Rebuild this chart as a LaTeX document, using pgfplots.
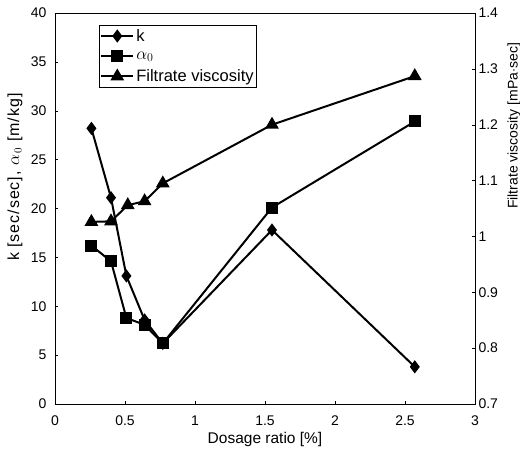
\documentclass[border=0pt]{standalone}
\usepackage{pgfplots}
\pgfplotsset{compat=1.18}
\usepackage{fontspec}
\setmainfont{Liberation Sans}
\newfontfamily\widefont[LetterSpace=6]{Liberation Sans}

\begin{document}
\begin{tikzpicture}
\pgfplotsset{
  every axis/.append style={
    width=420pt, height=391pt, scale only axis,
    xmin=0, xmax=3,
    font=\fontsize{14}{16}\selectfont,
    /pgf/number format/assume math mode=true,
    tick style={black, thin},
    major tick length=3pt,
    axis line style={thin},
  },
  every axis plot/.append style={black, line width=2pt, mark options={solid}},
}
\begin{axis}[
  ymin=0, ymax=40, ytick={0,5,...,40},
  xtick={0,0.5,1,1.5,2,2.5,3},
  ytick pos=left, xtick pos=bottom,
  yticklabel style={xshift=-5pt},
  xticklabel style={yshift=-8pt},
  xlabel={Dosage ratio [\%]},
  xlabel style={font=\fontsize{15.5}{18}\selectfont, yshift=0pt},
  ylabel={\widefont k [sec/sec], $\alpha_{\,0}$ [m/kg]},
  ylabel style={font=\fontsize{16}{18}\selectfont,
    at={(axis description cs:-0.0952,0.58)}, anchor=center},
]
\addplot[mark=diamond*, mark size=5pt] coordinates {
  (0.26,28.2) (0.40,21.1) (0.51,13.1) (0.64,8.6) (0.77,6.2) (1.55,17.8) (2.57,3.8)
};
\addplot[mark=square*, mark size=5pt] coordinates {
  (0.26,16.2) (0.40,14.6) (0.51,8.8) (0.64,8.1) (0.77,6.2) (1.55,20.1) (2.57,28.9)
};
\end{axis}
\begin{axis}[
  ymin=0.7, ymax=1.4, ytick={0.7,0.8,0.9,1,1.1,1.2,1.3,1.4},
  axis x line=none, axis y line*=right,
  ylabel={Filtrate viscosity [mPa$\cdot$sec]},
  ylabel style={font=\fontsize{14}{16}\selectfont,
    at={(axis description cs:1.093,0.711)}, anchor=center},
  legend style={at={(rel axis cs:0.105,0.969)}, anchor=north west,
    draw=black, font=\fontsize{16.5}{19}\selectfont,
    row sep=5pt, inner xsep=1pt, inner ysep=2pt},
  legend cell align=left,
  legend image code/.code={\draw[line width=2pt, mark repeat=2, mark phase=2, #1]
    plot coordinates {(0pt,0pt)(16pt,0pt)(32pt,0pt)};},
]
\addlegendimage{black, line width=2pt, mark=diamond*, mark size=5pt}
\addlegendentry{k}
\addlegendimage{black, line width=2pt, mark=square*, mark size=5pt}
\addlegendentry{$\alpha_0$}
\addplot[mark=triangle*, mark size=6pt] coordinates {
  (0.26,1.026) (0.40,1.027) (0.52,1.056) (0.64,1.063) (0.77,1.095) (1.55,1.200) (2.57,1.287)
};
\addlegendentry{Filtrate viscosity}
\end{axis}
\pgfresetboundingbox
\path ([shift={(-55pt,-45pt)}]current axis.south west) rectangle ([shift={(45pt,13pt)}]current axis.north east);
\end{tikzpicture}
\end{document}
